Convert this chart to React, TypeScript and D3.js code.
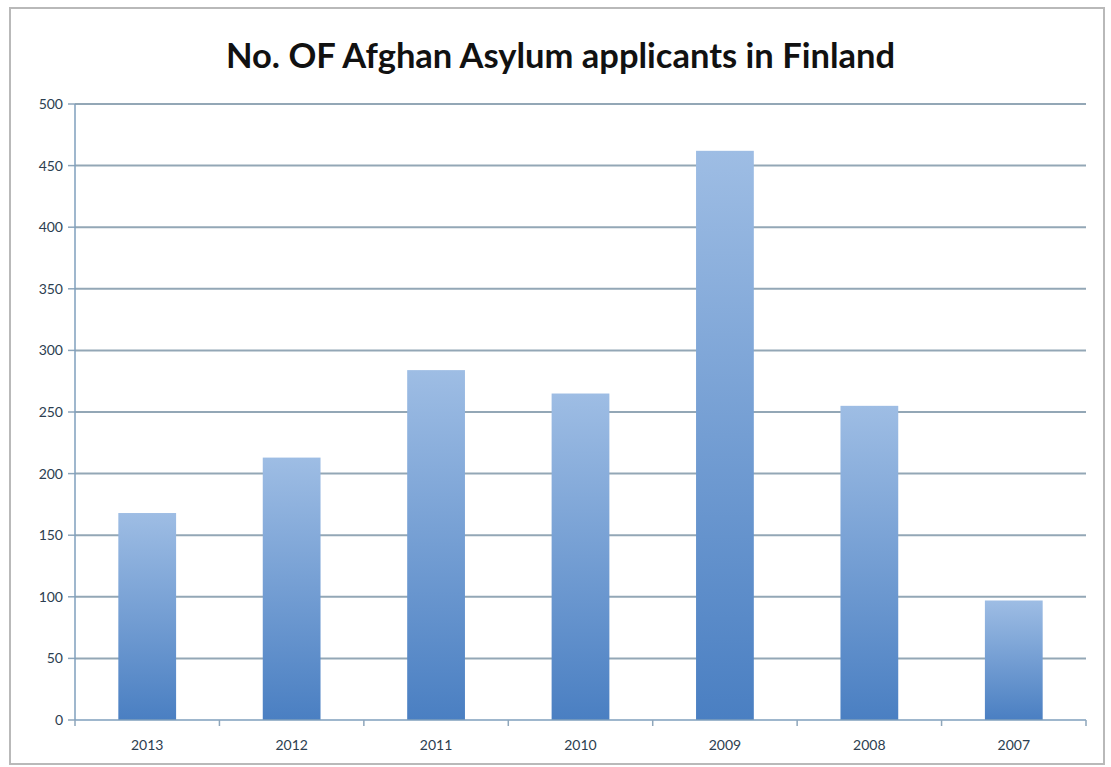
import { useMemo } from 'react'
import * as d3 from 'd3'

const YEARS = ['2013', '2012', '2011', '2010', '2009', '2008', '2007']
const APPLICANTS = [168, 213, 284, 265, 462, 255, 97]
const Y_TICKS = [0, 50, 100, 150, 200, 250, 300, 350, 400, 450, 500]
const TITLE = 'No. OF Afghan Asylum applicants in Finland'

const WIDTH = 1111
const HEIGHT = 767
const margin = { top: 104, right: 25, bottom: 47, left: 75 }

export default function App() {
  const x = useMemo(
    () =>
      d3
        .scaleBand()
        .domain(YEARS)
        .range([margin.left, WIDTH - margin.right])
        .paddingInner(0.6)
        .paddingOuter(0.3),
    [],
  )
  const y = useMemo(
    () =>
      d3
        .scaleLinear()
        .domain([0, 500])
        .range([HEIGHT - margin.bottom, margin.top]),
    [],
  )

  const step = x.step()
  const left = margin.left
  const right = WIDTH - margin.right
  const base = y(0)

  return (
    <svg
      width={WIDTH}
      height={HEIGHT}
      style={{ position: 'absolute', top: 0, left: 0, background: '#fff' }}
      fontFamily="Lato, 'Open Sans', sans-serif"
    >
      <defs>
        <linearGradient id="barFill" x1="0" y1="0" x2="0" y2="1">
          <stop offset="0%" stopColor="#9ebde4" />
          <stop offset="100%" stopColor="#4a7fc2" />
        </linearGradient>
      </defs>

      <rect x={10} y={8} width={1094} height={756} fill="#fff" stroke="#b9b9b9" strokeWidth={2} />

      <text
        x={WIDTH / 2 + 5}
        y={68}
        textAnchor="middle"
        fontSize={34.5}
        fontWeight="bold"
        fill="#111"
      >
        {TITLE}
      </text>

      {Y_TICKS.map((t) => (
        <g key={t}>
          {t > 0 && (
            <line x1={left} x2={right} y1={y(t)} y2={y(t)} stroke="#93a7b6" strokeWidth={2} />
          )}
          <line x1={left - 7} x2={left} y1={y(t)} y2={y(t)} stroke="#8ea6bb" strokeWidth={1.5} />
          <text
            x={left - 12}
            y={y(t)}
            dy="0.35em"
            textAnchor="end"
            fontSize={14}
            fill="#2c3e50"
          >
            {t}
          </text>
        </g>
      ))}

      {YEARS.map((yr, i) => (
        <rect
          key={yr}
          x={x(yr)}
          y={y(APPLICANTS[i])}
          width={x.bandwidth()}
          height={base - y(APPLICANTS[i])}
          fill="url(#barFill)"
        />
      ))}

      <line x1={left} x2={left} y1={margin.top} y2={base} stroke="#7f9fbd" strokeWidth={1.5} />
      <line x1={left} x2={right} y1={base} y2={base} stroke="#7f9fbd" strokeWidth={1.5} />

      {d3.range(YEARS.length + 1).map((i) => (
        <line
          key={i}
          x1={left + i * step}
          x2={left + i * step}
          y1={base}
          y2={base + 6}
          stroke="#8ea6bb"
          strokeWidth={1.5}
        />
      ))}

      {YEARS.map((yr) => (
        <text
          key={yr}
          x={(x(yr) ?? 0) + x.bandwidth() / 2}
          y={base + 30}
          textAnchor="middle"
          fontSize={14}
          fill="#2c3e50"
        >
          {yr}
        </text>
      ))}
    </svg>
  )
}
